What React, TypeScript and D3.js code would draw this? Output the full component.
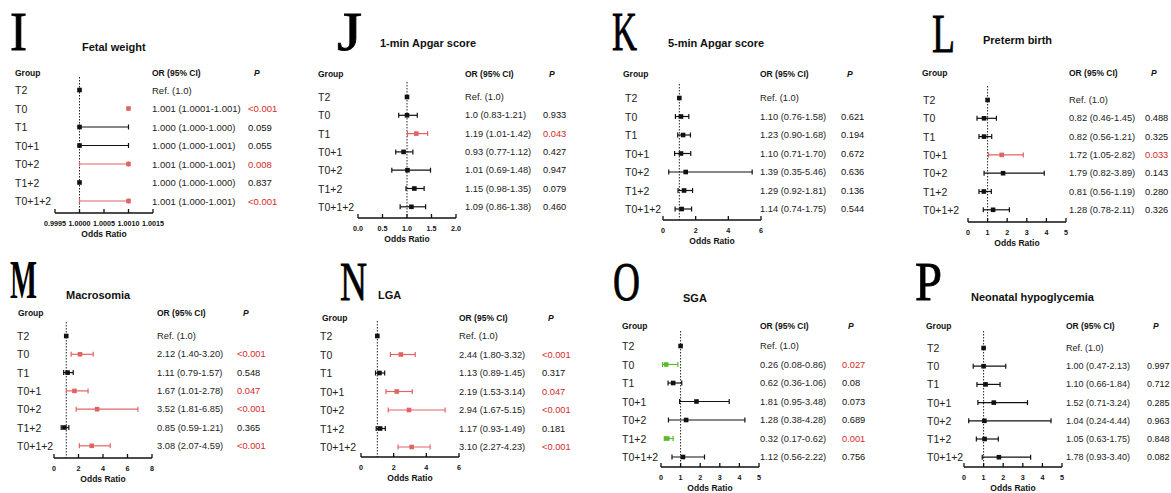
import React from 'react';
import * as d3 from 'd3';

const groups = ['T2', 'T0', 'T1', 'T0+1', 'T0+2', 'T1+2', 'T0+1+2'];

// I - fetal weight
const fetalCI = ['Ref. (1.0)', '1.001 (1.0001-1.001)', '1.000 (1.000-1.000)', '1.000 (1.000-1.001)', '1.001 (1.000-1.001)', '1.000 (1.000-1.000)', '1.001 (1.000-1.001)'];
const fetalP = ['', '<0.001', '0.059', '0.055', '0.008', '0.837', '<0.001'];
const fetalSig = ['', 'up', '', '', 'up', '', 'up'];
const fetalOR = [1, 1.001, 1.0, 1.0, 1.001, 1.0, 1.001];
const fetalLo = [1, 1.001, 1.0, 1.0, 1.0, 1.0, 1.0];
const fetalHi = [1, 1.001, 1.001, 1.001, 1.001, 1.0, 1.001];
const fetalTicks = [0.9995, 1.0, 1.0005, 1.001, 1.0015];

// J - 1-min apgar
const apgar1CI = ['Ref. (1.0)', '1.0 (0.83-1.21)', '1.19 (1.01-1.42)', '0.93 (0.77-1.12)', '1.01 (0.69-1.48)', '1.15 (0.98-1.35)', '1.09 (0.86-1.38)'];
const apgar1P = ['', '0.933', '0.043', '0.427', '0.947', '0.079', '0.460'];
const apgar1Sig = ['', '', 'up', '', '', '', ''];
const apgar1Ticks = [0, 0.5, 1, 1.5, 2];

// K - 5-min apgar
const apgar5CI = ['Ref. (1.0)', '1.10 (0.76-1.58)', '1.23 (0.90-1.68)', '1.10 (0.71-1.70)', '1.39 (0.35-5.46)', '1.29 (0.92-1.81)', '1.14 (0.74-1.75)'];
const apgar5P = ['', '0.621', '0.194', '0.672', '0.636', '0.136', '0.544'];
const apgar5Sig = ['', '', '', '', '', '', ''];
const apgar5Ticks = [0, 2, 4, 6];

// L - preterm birth
const pretermCI = ['Ref. (1.0)', '0.82 (0.46-1.45)', '0.82 (0.56-1.21)', '1.72 (1.05-2.82)', '1.79 (0.82-3.89)', '0.81 (0.56-1.19)', '1.28 (0.78-2.11)'];
const pretermP = ['', '0.488', '0.325', '0.033', '0.143', '0.280', '0.326'];
const pretermSig = ['', '', '', 'up', '', '', ''];
const pretermTicks = [0, 1, 2, 3, 4, 5];

// M - macrosomia
const macroCI = ['Ref. (1.0)', '2.12 (1.40-3.20)', '1.11 (0.79-1.57)', '1.67 (1.01-2.78)', '3.52 (1.81-6.85)', '0.85 (0.59-1.21)', '3.08 (2.07-4.59)'];
const macroP = ['', '<0.001', '0.548', '0.047', '<0.001', '0.365', '<0.001'];
const macroSig = ['', 'up', '', 'up', 'up', '', 'up'];
const macroTicks = [0, 2, 4, 6, 8];

// N - LGA
const lgaCI = ['Ref. (1.0)', '2.44 (1.80-3.32)', '1.13 (0.89-1.45)', '2.19 (1.53-3.14)', '2.94 (1.67-5.15)', '1.17 (0.93-1.49)', '3.10 (2.27-4.23)'];
const lgaP = ['', '<0.001', '0.317', '0.047', '<0.001', '0.181', '<0.001'];
const lgaSig = ['', 'up', '', 'up', 'up', '', 'up'];
const lgaTicks = [0, 2, 4, 6];

// O - SGA
const sgaCI = ['Ref. (1.0)', '0.26 (0.08-0.86)', '0.62 (0.36-1.06)', '1.81 (0.95-3.48)', '1.28 (0.38-4.28)', '0.32 (0.17-0.62)', '1.12 (0.56-2.22)'];
const sgaP = ['', '0.027', '0.08', '0.073', '0.689', '0.001', '0.756'];
const sgaSig = ['', 'down', '', '', '', 'down', ''];
const sgaTicks = [0, 1, 2, 3, 4, 5];

// P - neonatal hypoglycemia
const hypoCI = ['Ref. (1.0)', '1.00 (0.47-2.13)', '1.10 (0.66-1.84)', '1.52 (0.71-3.24)', '1.04 (0.24-4.44)', '1.05 (0.63-1.75)', '1.78 (0.93-3.40)'];
const hypoP = ['', '0.997', '0.712', '0.285', '0.963', '0.848', '0.082'];
const hypoSig = ['', '', '', '', '', '', ''];
const hypoTicks = [0, 1, 2, 3, 4, 5];

const panels = [
  { letter: 'I', title: 'Fetal weight', ci: fetalCI, p: fetalP, sig: fetalSig, ticks: fetalTicks, fmt: '.4f',
    plot: { or: fetalOR, lo: fetalLo, hi: fetalHi } },
  { letter: 'J', title: '1-min Apgar score', ci: apgar1CI, p: apgar1P, sig: apgar1Sig, ticks: apgar1Ticks, fmt: '.1f' },
  { letter: 'K', title: '5-min Apgar score', ci: apgar5CI, p: apgar5P, sig: apgar5Sig, ticks: apgar5Ticks, fmt: 'd' },
  { letter: 'L', title: 'Preterm birth', ci: pretermCI, p: pretermP, sig: pretermSig, ticks: pretermTicks, fmt: 'd' },
  { letter: 'M', title: 'Macrosomia', ci: macroCI, p: macroP, sig: macroSig, ticks: macroTicks, fmt: 'd' },
  { letter: 'N', title: 'LGA', ci: lgaCI, p: lgaP, sig: lgaSig, ticks: lgaTicks, fmt: 'd' },
  { letter: 'O', title: 'SGA', ci: sgaCI, p: sgaP, sig: sgaSig, ticks: sgaTicks, fmt: 'd' },
  { letter: 'P', title: 'Neonatal hypoglycemia', ci: hypoCI, p: hypoP, sig: hypoSig, ticks: hypoTicks, fmt: 'd' },
];

// where each panel sits on the page
const layout = [
  { ax0: 55, ay: 213, gx: 15, gy: 73, lx: 15, r0: 90, step: 18.5, orX: 152, pX: 248, Lx: 10, Lb: 50, Lw: 17, Lbold: false, tx: 82, ty: 47, fs: 9.5 },
  { ax0: 358, ay: 218, gx: 318, gy: 74, lx: 318, r0: 97, step: 18.3, orX: 465, pX: 543, Lx: 337, Lb: 50, Lw: 25, Lbold: false, tx: 380, ty: 43, fs: 9.3 },
  { ax0: 663, ay: 220, gx: 623, gy: 74, lx: 625, r0: 98, step: 18.5, orX: 760, pX: 841, Lx: 612, Lb: 50, Lw: 25, Lbold: false, tx: 668, ty: 43, fs: 9.3 },
  { ax0: 968, ay: 222, gx: 922, gy: 73, lx: 923, r0: 100, step: 18.3, orX: 1069, pX: 1145, Lx: 932, Lb: 52, Lw: 23, Lbold: false, tx: 983, ty: 40, fs: 9.3 },
  { ax0: 54, ay: 458, gx: 18, gy: 313, lx: 17, r0: 336, step: 18.3, orX: 157, pX: 237, Lx: 10, Lb: 298, Lw: 27, Lbold: true, tx: 66, ty: 295, fs: 9.3 },
  { ax0: 361, ay: 457, gx: 322, gy: 318, lx: 320, r0: 336, step: 18.5, orX: 459, pX: 542, Lx: 340, Lb: 300, Lw: 27, Lbold: false, tx: 378, ty: 295, fs: 9.3 },
  { ax0: 661, ay: 467, gx: 622, gy: 326, lx: 622, r0: 346, step: 18.5, orX: 760, pX: 842, Lx: 613, Lb: 300, Lw: 27, Lbold: false, tx: 683, ty: 298, fs: 9.3 },
  { ax0: 964, ay: 467, gx: 926, gy: 326, lx: 927, r0: 348, step: 18.2, orX: 1066, pX: 1147, Lx: 915, Lb: 300, Lw: 27, Lbold: false, tx: 971, ty: 297, fs: 9 },
];

const SANS = 'Liberation Sans, Arial, sans-serif';
const lineCol = { '': '#111', up: '#e06464', down: '#5cb82c' };
const pCol = { '': '#111', up: '#d42a2a', down: '#d42a2a' };

function parseCI(s: string) {
  const m = s.match(/([\d.]+) \(([\d.]+)-([\d.]+)\)/);
  return m ? [+m[1], +m[2], +m[3]] : [1, 1, 1];
}

function Forest({ d, l }: any) {
  const x = d3.scaleLinear()
    .domain([d.ticks[0], d.ticks[d.ticks.length - 1]])
    .range([l.ax0, l.ax0 + 98]);
  const fmt = d3.format(d.fmt);
  const rows = groups.map((g, i) => {
    const [or, lo, hi] = d.plot ? [d.plot.or[i], d.plot.lo[i], d.plot.hi[i]] : parseCI(d.ci[i]);
    return { g, or, lo, hi, y: l.r0 + i * l.step, sig: d.sig[i], ci: d.ci[i], pv: d.p[i] };
  });
  const x1 = x(1);

  return (
    <g fontFamily={SANS}>
      <text x={l.Lx} y={l.Lb} fontFamily="Liberation Serif, Times New Roman, serif" fontSize={55}
        fontWeight={l.Lbold ? 'bold' : 'normal'} stroke="#000" strokeWidth={l.Lbold ? 0 : 0.8}
        textLength={l.Lw} lengthAdjust="spacingAndGlyphs" fill="#000">{d.letter}</text>
      <text x={l.tx} y={l.ty} dominantBaseline="central" fontSize={11} fontWeight="bold" fill="#111">{d.title}</text>

      <text x={l.gx} y={l.gy} dominantBaseline="central" fontSize={8.5} fontWeight="bold" fill="#111">Group</text>
      <text x={l.orX} y={l.gy} dominantBaseline="central" fontSize={8.5} fontWeight="bold" fill="#111">OR (95% CI)</text>
      <text x={l.pX + 6} y={l.gy} dominantBaseline="central" fontSize={8.5} fontWeight="bold" fontStyle="italic" fill="#111">P</text>

      <line x1={x1} x2={x1} y1={l.ay - 136} y2={l.ay} stroke="#222" strokeWidth={1} strokeDasharray="1.5,1.5" />

      {rows.map((r, i) => {
        const c = lineCol[r.sig];
        return (
          <g key={i}>
            <text x={l.lx} y={r.y} dominantBaseline="central" fontSize={10.5} fill="#222">{r.g}</text>
            {r.hi > r.lo && (
              <g stroke={c} strokeWidth={1.2}>
                <line x1={x(r.lo)} x2={x(r.hi)} y1={r.y} y2={r.y} />
                <line x1={x(r.lo)} x2={x(r.lo)} y1={r.y - 2.5} y2={r.y + 2.5} />
                <line x1={x(r.hi)} x2={x(r.hi)} y1={r.y - 2.5} y2={r.y + 2.5} />
              </g>
            )}
            <rect x={x(r.or) - 2.3} y={r.y - 2.3} width={4.6} height={4.6} fill={c} />
            <text x={l.orX} y={r.y} dominantBaseline="central" fontSize={l.fs} fill="#222">{r.ci}</text>
            <text x={l.pX} y={r.y} dominantBaseline="central" fontSize={l.fs} fill={pCol[r.sig]}>{r.pv}</text>
          </g>
        );
      })}

      <line x1={l.ax0} x2={l.ax0 + 98} y1={l.ay} y2={l.ay} stroke="#111" strokeWidth={1.3} />
      {d.ticks.map((t: number) => (
        <g key={t}>
          <line x1={x(t)} x2={x(t)} y1={l.ay} y2={l.ay - 4} stroke="#111" strokeWidth={1.3} />
          <text x={x(t)} y={l.ay + 10} textAnchor="middle" dominantBaseline="central" fontSize={7.2} fontWeight="bold" fill="#111">
            {fmt(t)}
          </text>
        </g>
      ))}
      <text x={l.ax0 + 49} y={l.ay + 21} textAnchor="middle" dominantBaseline="central" fontSize={8.5} fontWeight="bold" fill="#111">
        Odds Ratio
      </text>
    </g>
  );
}

export default function App() {
  return (
    <svg width={1171} height={493} style={{ position: 'absolute', left: 0, top: 0, background: '#fff' }}>
      <rect width={1171} height={493} fill="#fff" />
      {panels.map((d, i) => (
        <Forest key={d.letter} d={d} l={layout[i]} />
      ))}
    </svg>
  );
}
